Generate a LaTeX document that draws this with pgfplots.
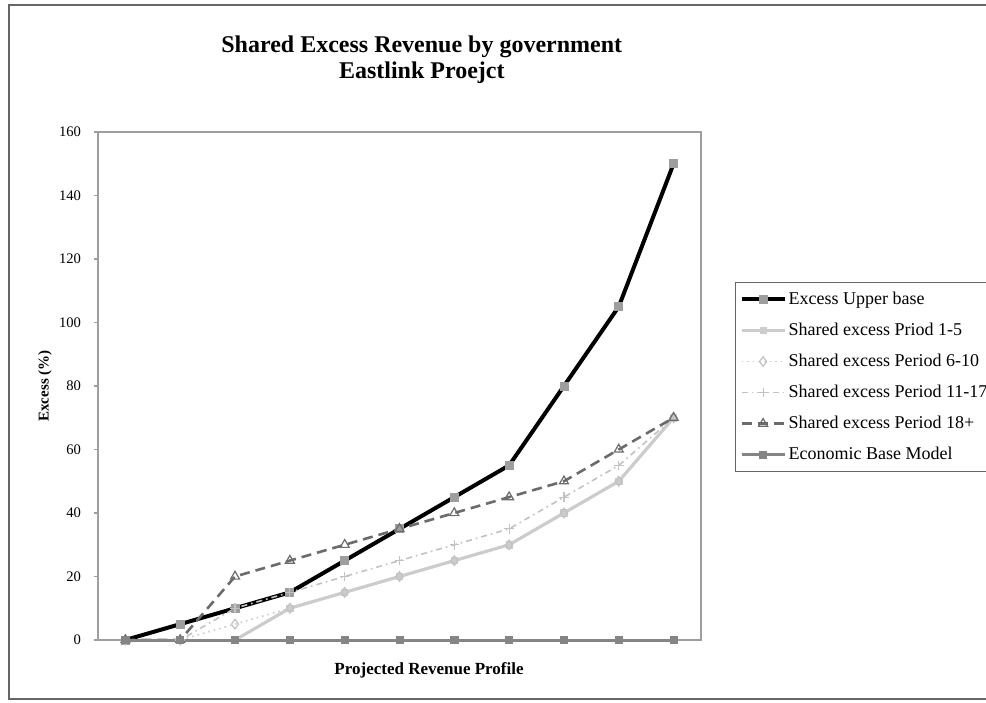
\documentclass[border=0pt]{standalone}
\usepackage{fontspec}
\setmainfont{Liberation Serif}
\usepackage{pgfplots}
\pgfplotsset{compat=1.18}

\definecolor{framegray}{gray}{0.40}
\definecolor{axisgray}{gray}{0.62}
\definecolor{upmark}{gray}{0.62}
\definecolor{lightA}{gray}{0.80}
\definecolor{lightB}{gray}{0.80}
\definecolor{lightC}{gray}{0.76}
\definecolor{darkdash}{gray}{0.42}
\definecolor{basegray}{gray}{0.52}

\begin{document}
\begin{tikzpicture}
  % page = reference picture, 0.5pt per pixel, origin at plot area's lower left
  \useasboundingbox (-49pt,-31pt) rectangle (444pt,320pt);
  \draw[framegray, line width=1pt] (-44.5pt,-29.5pt) rectangle (470pt,317.5pt);

  \begin{axis}[
      at={(0pt,0pt)}, anchor=south west,
      scale only axis,
      width=301.5pt, height=254pt,
      xmin=0.5, xmax=11.5,
      ymin=0, ymax=160,
      ytick={0,20,...,160},
      xtick=\empty,
      ytick pos=left,
      tick align=outside,
      major tick length=2pt,
      tick style={axisgray, line width=0.6pt},
      axis line style={axisgray, line width=0.8pt},
      clip=false,
      /pgf/number format/assume math mode=true,
      yticklabel style={font=\fontsize{7.3}{8}\selectfont, xshift=-3pt},
      title={Shared Excess Revenue by government\\Eastlink Proejct},
      title style={at={(axis description cs:0.537,1.119)}, anchor=center,
                   align=center, font=\fontsize{12}{13}\selectfont\bfseries},
      xlabel={Projected Revenue Profile},
      xlabel style={at={(axis description cs:0.549,-0.06)}, anchor=center,
                    font=\fontsize{8.5}{10}\selectfont\bfseries},
      ylabel={Excess (\%)},
      ylabel style={at={(axis description cs:-0.088,0.5)}, anchor=center,
                    rotate=0, font=\fontsize{7.5}{9}\selectfont\bfseries},
      legend cell align=left,
      legend style={at={(axis description cs:1.0564,0.7047)}, anchor=north west,
                    draw=framegray, line width=0.6pt,
                    font=\fontsize{9}{10}\selectfont,
                    inner xsep=2pt, inner ysep=2.5pt,
                    row sep=3.8pt,
                    nodes={inner xsep=1pt},
                    /tikz/every odd column/.append style={column sep=0pt}},
      legend image code/.code={%
        \draw[mark repeat=2, mark phase=2, #1]
          plot coordinates {(0pt,0pt) (10.75pt,0pt) (21.5pt,0pt)};},
    ]
    % Excess Upper base
    \addplot[black, line width=2pt, mark=square*,
             mark options={solid, fill=upmark, draw=upmark, line width=0.4pt}, mark size=2pt]
      coordinates {(1,0) (2,5) (3,10) (4,15) (5,25) (6,35) (7,45) (8,55) (9,80) (10,105) (11,150)};
    % Shared excess Priod 1-5
    \addplot[lightA, line width=1.6pt, mark=square*,
             mark options={solid, fill=lightA, draw=lightA, line width=0.4pt}, mark size=1.6pt]
      coordinates {(3,0) (4,10) (5,15) (6,20) (7,25) (8,30) (9,40) (10,50) (11,70)};
    % Shared excess Period 6-10
    \addplot[lightB, line width=0.8pt, dotted, mark=diamond,
             mark options={solid, draw=lightC, fill=white, line width=0.6pt}, mark size=2.4pt]
      coordinates {(1,0) (2,0) (3,5) (4,10) (5,15) (6,20) (7,25) (8,30) (9,40) (10,50) (11,70)};
    % Shared excess Period 11-17
    \addplot[lightC, line width=0.8pt, dash dot, mark=+,
             mark options={solid, draw=lightC, line width=0.6pt}, mark size=2.4pt]
      coordinates {(1,0) (2,0) (3,10) (4,15) (5,20) (6,25) (7,30) (8,35) (9,45) (10,55) (11,70)};
    % Shared excess Period 18+
    \addplot[darkdash, line width=1.3pt, dash pattern=on 5pt off 3pt, mark=triangle,
             mark options={solid, draw=darkdash, fill=white, line width=0.6pt}, mark size=2.6pt]
      coordinates {(1,0) (2,0) (3,20) (4,25) (5,30) (6,35) (7,40) (8,45) (9,50) (10,60) (11,70)};
    % Economic Base Model
    \addplot[basegray, line width=1.5pt, mark=square*,
             mark options={solid, fill=basegray, draw=basegray, line width=0.4pt}, mark size=1.8pt]
      coordinates {(1,0) (2,0) (3,0) (4,0) (5,0) (6,0) (7,0) (8,0) (9,0) (10,0) (11,0)};

    \legend{Excess Upper base, Shared excess Priod 1-5, Shared excess Period 6-10,
            Shared excess Period 11-17, Shared excess Period 18+, Economic Base Model}
  \end{axis}
\end{tikzpicture}
\end{document}
